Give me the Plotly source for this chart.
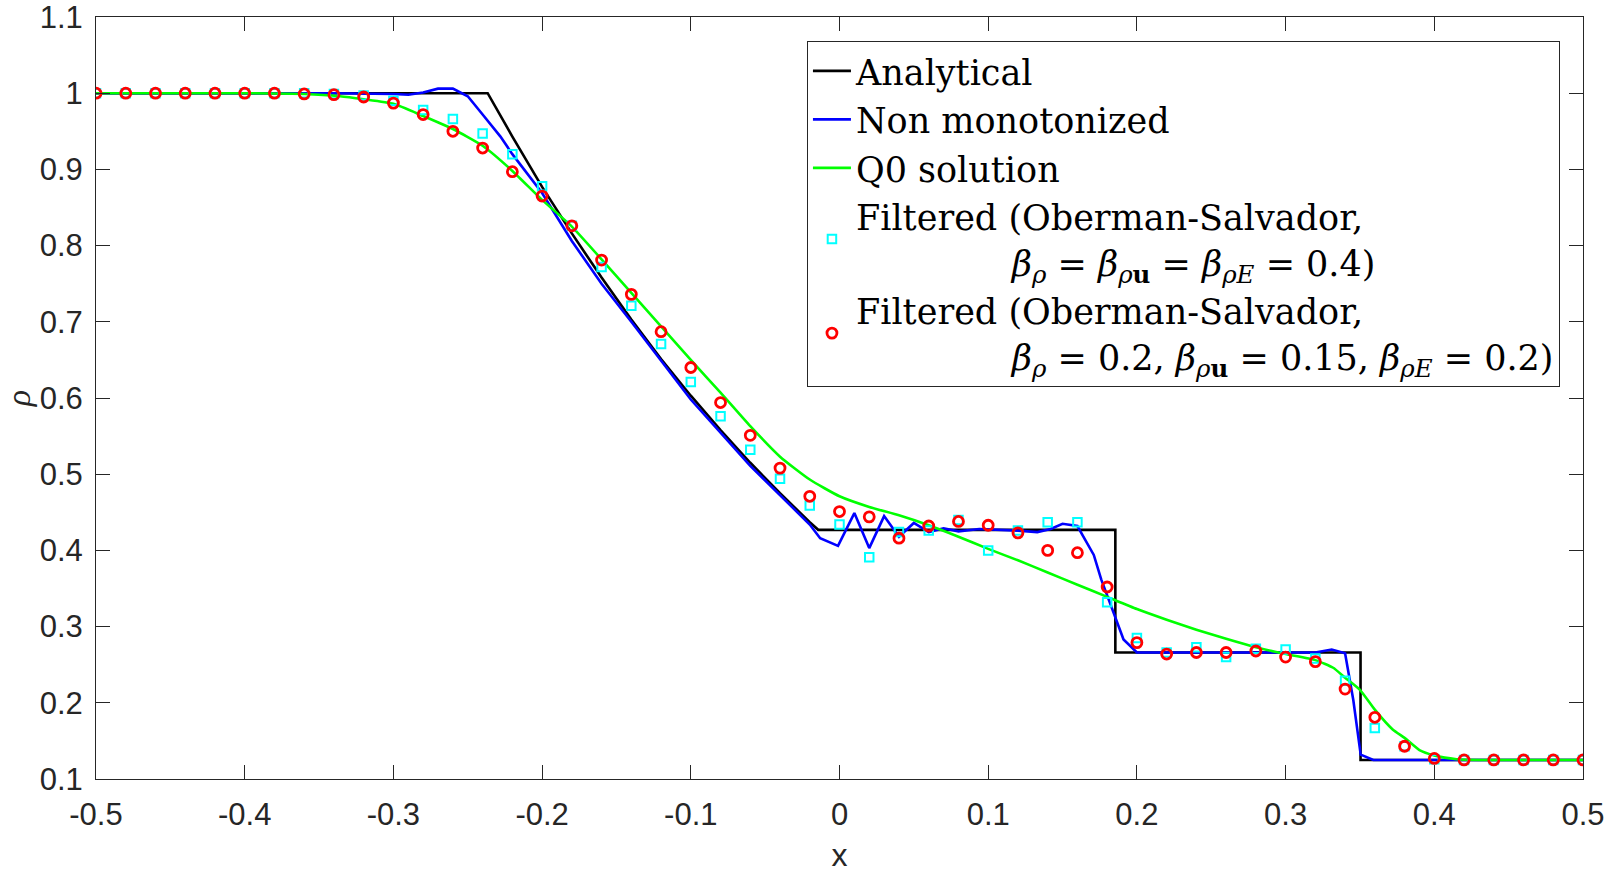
import plotly.graph_objects as go

# analytical (Sod tube)
ana_x = [-0.5, -0.2366, -0.22, -0.20, -0.18, -0.16, -0.14, -0.12, -0.10, -0.08, -0.06,
         -0.04, -0.02, -0.0143, 0.1855, 0.1855, 0.3504, 0.3504, 0.5]
ana_y = [1.0, 1.0, 0.943, 0.877, 0.816, 0.758, 0.703, 0.651, 0.603, 0.558, 0.515,
         0.475, 0.437, 0.427, 0.427, 0.266, 0.266, 0.125, 0.125]

# non monotonized
blue_x = [-0.5, -0.34, -0.30, -0.29, -0.28, -0.27, -0.26, -0.25, -0.24, -0.228, -0.22,
          -0.20, -0.18, -0.16, -0.14, -0.10, -0.06, -0.02, -0.013, -0.001, 0.010, 0.020,
          0.030, 0.040, 0.050, 0.060, 0.070, 0.080, 0.094, 0.12, 0.133, 0.142, 0.150,
          0.160, 0.164, 0.171, 0.176, 0.182, 0.191, 0.200, 0.22, 0.32, 0.331, 0.340,
          0.3455, 0.3505, 0.359, 0.5]
blue_y = [1.0, 1.0, 0.999, 0.998, 1.001, 1.006, 1.006, 0.996, 0.972, 0.943, 0.920,
          0.869, 0.806, 0.750, 0.700, 0.598, 0.511, 0.434, 0.416, 0.406, 0.449, 0.403,
          0.445, 0.418, 0.436, 0.424, 0.429, 0.425, 0.428, 0.426, 0.424, 0.428, 0.435,
          0.432, 0.418, 0.394, 0.362, 0.331, 0.283, 0.266, 0.266, 0.266, 0.270, 0.265,
          0.204, 0.132, 0.125, 0.125]

# Q0 solution
green_x = [-0.5, -0.40, -0.36, -0.336, -0.32, -0.30, -0.28, -0.26, -0.24, -0.22, -0.20,
           -0.18, -0.16, -0.14, -0.12, -0.10, -0.08, -0.06, -0.04, -0.02, 0.0, 0.02, 0.04,
           0.06, 0.08, 0.10, 0.12, 0.14, 0.16, 0.18, 0.20, 0.22, 0.24, 0.26, 0.28, 0.30,
           0.32, 0.332, 0.34, 0.35, 0.36, 0.372, 0.38, 0.39, 0.40, 0.415, 0.43, 0.5]
green_y = [1.0, 1.0, 0.999, 0.996, 0.992, 0.986, 0.970, 0.953, 0.931, 0.898, 0.860,
           0.825, 0.782, 0.738, 0.694, 0.650, 0.607, 0.563, 0.523, 0.493, 0.471, 0.457, 0.446,
           0.433, 0.418, 0.402, 0.387, 0.371, 0.355, 0.339, 0.323, 0.309, 0.296, 0.284, 0.273,
           0.264, 0.256, 0.246, 0.233, 0.217, 0.191, 0.165, 0.154, 0.138, 0.131, 0.126,
           0.125, 0.125]

# filtered solutions, sampled every 0.02
pts_x = [-0.50, -0.48, -0.46, -0.44, -0.42, -0.40, -0.38, -0.36, -0.34, -0.32, -0.30,
         -0.28, -0.26, -0.24, -0.22, -0.20, -0.18, -0.16, -0.14, -0.12, -0.10, -0.08,
         -0.06, -0.04, -0.02, 0.00, 0.02, 0.04, 0.06, 0.08, 0.10, 0.12, 0.14, 0.16, 0.18,
         0.20, 0.22, 0.24, 0.26, 0.28, 0.30, 0.32, 0.34, 0.36, 0.38, 0.40, 0.42, 0.44,
         0.46, 0.48, 0.50]
cyan_y = [1.0, 1.0, 1.0, 1.0, 1.0, 1.0, 1.0, 1.0, 0.999, 0.997, 0.990,
          0.978, 0.966, 0.947, 0.920, 0.878, 0.826, 0.772, 0.721, 0.671, 0.621, 0.576,
          0.532, 0.494, 0.459, 0.434, 0.391, 0.424, 0.426, 0.440, 0.400, 0.426, 0.437, 0.437, 0.332,
          0.285, 0.266, 0.273, 0.260, 0.271, 0.270, 0.258, 0.229, 0.167, 0.143, 0.126, 0.125, 0.125,
          0.125, 0.125, 0.125]
red_y = [1.0, 1.0, 1.0, 1.0, 1.0, 1.0, 1.0, 0.999, 0.998, 0.995, 0.987,
         0.972, 0.950, 0.928, 0.897, 0.865, 0.826, 0.781, 0.736, 0.687, 0.640, 0.594,
         0.551, 0.508, 0.471, 0.451, 0.444, 0.416, 0.432, 0.438, 0.433, 0.423, 0.400, 0.397, 0.352,
         0.279, 0.264, 0.266, 0.266, 0.268, 0.260, 0.254, 0.218, 0.181, 0.143, 0.127, 0.125, 0.125,
         0.125, 0.125, 0.125]

x_ticks = [-0.5, -0.4, -0.3, -0.2, -0.1, 0, 0.1, 0.2, 0.3, 0.4, 0.5]
x_ticktext = ['-0.5', '-0.4', '-0.3', '-0.2', '-0.1', '0', '0.1', '0.2', '0.3', '0.4', '0.5']
y_ticks = [0.1, 0.2, 0.3, 0.4, 0.5, 0.6, 0.7, 0.8, 0.9, 1, 1.1]
y_ticktext = ['0.1', '0.2', '0.3', '0.4', '0.5', '0.6', '0.7', '0.8', '0.9', '1', '1.1']

ind = '\u00a0' * 14
name_cyan = ('Filtered (Oberman-Salvador,<br>' + ind +
             '<i>β</i><sub><i>ρ</i></sub> = <i>β</i><sub><i>ρ</i><b>u</b></sub> = '
             '<i>β</i><sub><i>ρE</i></sub> = 0.4)')
name_red = ('Filtered (Oberman-Salvador,<br>' + ind +
            '<i>β</i><sub><i>ρ</i></sub> = 0.2, <i>β</i><sub><i>ρ</i><b>u</b></sub> = 0.15, '
            '<i>β</i><sub><i>ρE</i></sub> = 0.2)')

fig = go.Figure()
fig.add_trace(go.Scatter(x=ana_x, y=ana_y, mode='lines', name='Analytical',
                         line=dict(color='black', width=2.6)))
fig.add_trace(go.Scatter(x=blue_x, y=blue_y, mode='lines', name='Non monotonized',
                         line=dict(color='#0000ff', width=2.6)))
fig.add_trace(go.Scatter(x=green_x, y=green_y, mode='lines', name='Q0 solution',
                         line=dict(color='#00ff00', width=2.6, shape='spline', smoothing=0.5)))
fig.add_trace(go.Scatter(x=pts_x, y=cyan_y, mode='markers', name=name_cyan,
                         marker=dict(symbol='square-open', size=8.5, color='#00ffff',
                                     line=dict(width=2, color='#00ffff'))))
fig.add_trace(go.Scatter(x=pts_x, y=red_y, mode='markers', name=name_red,
                         marker=dict(symbol='circle-open', size=10, color='#ff0000',
                                     line=dict(width=2.8, color='#ff0000'))))

axis_common = dict(showgrid=False, zeroline=False, showline=True, linecolor='#262626',
                   linewidth=1, mirror='ticks', ticks='inside', ticklen=14,
                   tickcolor='#262626', tickwidth=1, automargin=False,
                   ticklabeloverflow='allow',
                   tickfont=dict(family='Liberation Sans', size=31, color='#262626'))

fig.update_layout(
    width=1608, height=875,
    paper_bgcolor='white', plot_bgcolor='white',
    margin=dict(l=96, r=25, t=17, b=96),
    xaxis=dict(range=[-0.5, 0.5], tickvals=x_ticks, ticktext=x_ticktext,
               ticklabelstandoff=8,
               title=dict(text='x', standoff=12,
                          font=dict(family='Liberation Sans', size=32, color='#262626')),
               **axis_common),
    yaxis=dict(range=[0.1, 1.1], tickvals=y_ticks, ticktext=y_ticktext,
               ticklabelstandoff=6,
               title=dict(text='<i>ρ</i>', standoff=4,
                          font=dict(family='Liberation Serif', size=34, color='#262626')),
               **axis_common),
    legend=dict(x=0.9845, xanchor='right', y=0.969, yanchor='top',
                bgcolor='white', bordercolor='#262626', borderwidth=1,
                font=dict(family='DejaVu Serif', size=35, color='black'),
                tracegroupgap=0, itemwidth=38),
    showlegend=True,
)

fig.write_html("out.html", config={'displayModeBar': False},
               post_script="document.body.style.margin='0px';")
